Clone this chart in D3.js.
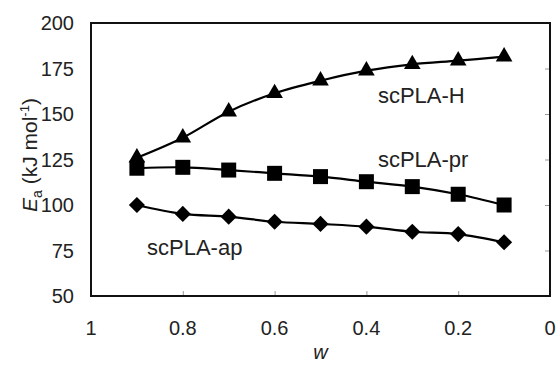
<!DOCTYPE html>
<html>
<head>
<meta charset="utf-8">
<script src="https://cdn.jsdelivr.net/npm/d3@7"></script>
<style>
  body { margin: 0; background: #fff; }
  text { font-family: "Liberation Sans", Arial, sans-serif; fill: #222; }
</style>
</head>
<body>
<div id="chart"></div>
<script>
const wValues = [0.9, 0.8, 0.7, 0.6, 0.5, 0.4, 0.3, 0.2, 0.1];
const eaH  = [126, 137, 151.3, 161.4, 168.3, 173.8, 177.3, 179.3, 181.5];
const eaPr = [120.2, 120.7, 119.2, 117.4, 115.6, 112.8, 110.1, 105.9, 100];
const eaAp = [100, 95.1, 93.6, 90.8, 89.6, 88.1, 85.3, 84.0, 79.5];
const xTicks = [1, 0.8, 0.6, 0.4, 0.2, 0];
const yTicks = [50, 75, 100, 125, 150, 175, 200];

const margin = {top: 23, right: 7, bottom: 69, left: 91};
const width = 557, height = 365;
const visWidth = width - margin.left - margin.right;
const visHeight = height - margin.top - margin.bottom;

const svg = d3.select("#chart").append("svg")
  .attr("width", width).attr("height", height);
const g = svg.append("g").attr("transform", `translate(${margin.left}, ${margin.top})`);

const x = d3.scaleLinear().domain([1, 0]).range([0, visWidth]);
const y = d3.scaleLinear().domain([50, 200]).range([visHeight, 0]);

// inside ticks on bottom and right
g.append("g")
  .attr("transform", `translate(0, ${visHeight})`)
  .call(d3.axisTop(x).tickValues(xTicks.slice(1, -1)).tickSize(5).tickFormat(""))
  .call(a => a.select(".domain").remove())
  .call(a => a.selectAll("line").attr("stroke", "#999"));

g.append("g")
  .attr("transform", `translate(${visWidth}, 0)`)
  .call(d3.axisLeft(y).tickValues(yTicks.slice(1, -1)).tickSize(5).tickFormat(""))
  .call(a => a.select(".domain").remove())
  .call(a => a.selectAll("line").attr("stroke", "#999"));

// tick labels
g.append("g").selectAll("text")
  .data(xTicks)
  .join("text")
    .attr("x", d => x(d))
    .attr("y", visHeight + 39)
    .attr("text-anchor", "middle")
    .attr("font-size", "20px")
    .text(d => d3.format("")(d));

g.append("g").selectAll("text")
  .data(yTicks)
  .join("text")
    .attr("x", -17)
    .attr("y", d => y(d))
    .attr("dy", "0.35em")
    .attr("text-anchor", "end")
    .attr("font-size", "20px")
    .text(d => d);

// frame
g.append("rect")
  .attr("width", visWidth).attr("height", visHeight)
  .attr("fill", "none").attr("stroke", "#111").attr("stroke-width", 2);

const line = d3.line()
  .x(d => x(d[0]))
  .y(d => y(d[1]))
  .curve(d3.curveCatmullRom.alpha(0.5));

const series = [
  {name: "scPLA-H", values: eaH, symbol: d3.symbol(d3.symbolTriangle, 120), rot: 0},
  {name: "scPLA-pr", values: eaPr, symbol: d3.symbol(d3.symbolSquare, 225), rot: 0},
  {name: "scPLA-ap", values: eaAp, symbol: d3.symbol(d3.symbolSquare, 130), rot: 45}
];

series.forEach(s => {
  const pts = wValues.map((w, i) => [w, s.values[i]]);
  g.append("path")
    .attr("d", line(pts))
    .attr("fill", "none")
    .attr("stroke", "#000")
    .attr("stroke-width", 2.2);
  g.append("g").selectAll("path")
    .data(pts)
    .join("path")
      .attr("transform", d => `translate(${x(d[0])}, ${y(d[1])}) rotate(${s.rot})`)
      .attr("d", s.symbol)
      .attr("fill", "#000");
});

// series labels (baseline positions in data units)
const labels = [
  {text: "scPLA-H", w: 0.375, ea: 156},
  {text: "scPLA-pr", w: 0.375, ea: 121},
  {text: "scPLA-ap", w: 0.878, ea: 72.5}
];
g.append("g").selectAll("text")
  .data(labels)
  .join("text")
    .attr("x", d => x(d.w))
    .attr("y", d => y(d.ea))
    .attr("font-size", "22px")
    .text(d => d.text);

// axis titles
svg.append("text")
  .attr("x", margin.left + visWidth / 2)
  .attr("y", 365)
  .attr("dy", "-0.3em")
  .attr("text-anchor", "middle")
  .attr("font-size", "20px")
  .attr("font-style", "italic")
  .text("w");

const yt = svg.append("text")
  .attr("transform", "translate(37, 155) rotate(-90)")
  .attr("text-anchor", "middle")
  .attr("font-size", "21px");
yt.append("tspan").attr("font-style", "italic").text("E");
yt.append("tspan").attr("font-size", "14px").attr("dy", "5").text("a");
yt.append("tspan").attr("dy", "-5").text(" (kJ mol");
yt.append("tspan").attr("font-size", "13px").attr("dy", "-8").text("-1");
yt.append("tspan").attr("dy", "8").text(")");
</script>
</body>
</html>
